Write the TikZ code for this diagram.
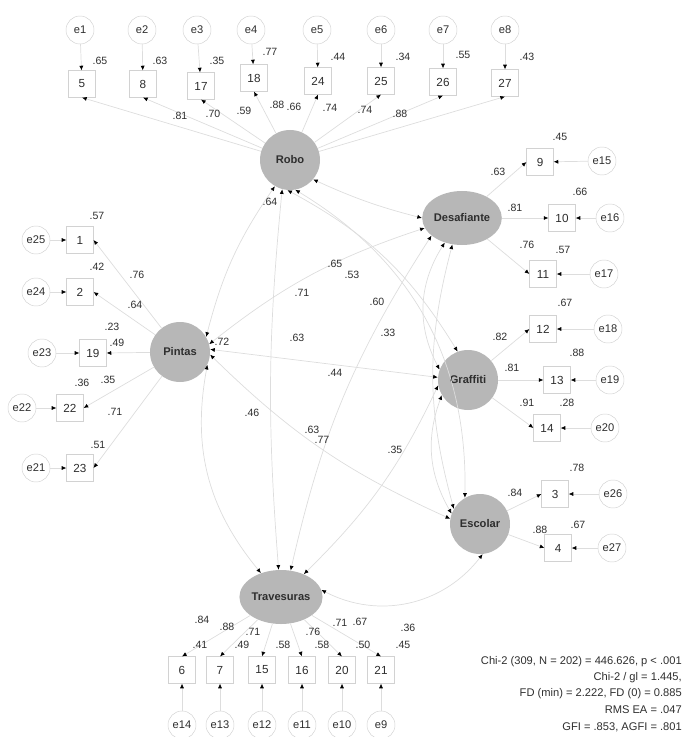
\documentclass[tikz,border=0pt]{standalone}
\usepackage{fontspec}
\setmainfont{Liberation Sans}
\usetikzlibrary{shapes.geometric, arrows.meta}
\definecolor{SemFill}{HTML}{B7B7B7}
\definecolor{SemLine}{HTML}{DDDDDD}
\definecolor{SemBox}{HTML}{D2D2D2}
\definecolor{SemText}{HTML}{2E2E2E}

\begin{document}
\begin{tikzpicture}[x=0.03cm, y=-0.03cm,
    latent/.style={circle, fill=SemFill, minimum size=1.8cm, inner sep=0pt, font=\fontsize{9.5}{11}\selectfont\bfseries, text=SemText},
    latentwide/.style={ellipse, fill=SemFill, minimum width=2.35cm, minimum height=1.62cm, inner sep=0pt, font=\fontsize{9.5}{11}\selectfont\bfseries, text=SemText},
    item/.style={rectangle, draw=SemBox, minimum size=0.8cm, inner sep=0pt, font=\fontsize{10}{12}\selectfont, text=SemText},
    err/.style={circle, draw=SemBox, minimum size=0.84cm, inner sep=0pt, font=\fontsize{9.5}{11}\selectfont, text=SemText},
    coef/.style={font=\fontsize{9}{10}\selectfont, text=SemText, inner sep=0pt},
    stat/.style={font=\fontsize{9.5}{11}\selectfont, text=SemText, anchor=east, inner sep=0pt},
    load/.style={draw=SemLine, line width=0.6pt, -{Latex[length=4pt, width=3.5pt, color=black]}},
    cov/.style={draw=SemLine, line width=0.6pt, {Latex[length=4pt, width=3.5pt, color=black]}-{Latex[length=4pt, width=3.5pt, color=black]}}]
    \useasboundingbox (0,0) rectangle (684,737);

    % Latent factors
    \node[latent] (robo) at (290,160) {Robo};
    \node[latentwide] (desafiante) at (462,218) {Desafiante};
    \node[latent] (graffiti) at (468,380) {Graffiti};
    \node[latent] (escolar) at (480,524) {Escolar};
    \node[latentwide] (travesuras) at (281,597) {Travesuras};
    \node[latent] (pintas) at (180,352) {Pintas};

    % Robo: errors and items (top row)
    \node[err] (e1) at (80,30) {e1};
    \node[err] (e2) at (142,30) {e2};
    \node[err] (e3) at (197,30) {e3};
    \node[err] (e4) at (251,30) {e4};
    \node[err] (e5) at (317,30) {e5};
    \node[err] (e6) at (381,30) {e6};
    \node[err] (e7) at (443,30) {e7};
    \node[err] (e8) at (505,30) {e8};
    \node[item] (i5) at (82,84) {5};
    \node[item] (i8) at (143,84) {8};
    \node[item] (i17) at (201,86) {17};
    \node[item] (i18) at (254,78) {18};
    \node[item] (i24) at (318,81) {24};
    \node[item] (i25) at (381,81) {25};
    \node[item] (i26) at (443,82) {26};
    \node[item] (i27) at (505,83) {27};

    % Desafiante: items and errors
    \node[item] (i9) at (540,162) {9};
    \node[item] (i10) at (562,218) {10};
    \node[item] (i11) at (543,274) {11};
    \node[err] (e15) at (602,161) {e15};
    \node[err] (e16) at (610,218) {e16};
    \node[err] (e17) at (604,274) {e17};

    % Graffiti: items and errors
    \node[item] (i12) at (543,329) {12};
    \node[item] (i13) at (557,380) {13};
    \node[item] (i14) at (547,428) {14};
    \node[err] (e18) at (608,329) {e18};
    \node[err] (e19) at (610,380) {e19};
    \node[err] (e20) at (605,428) {e20};

    % Escolar: items and errors
    \node[item] (i3) at (555,494) {3};
    \node[item] (i4) at (558,548) {4};
    \node[err] (e26) at (613,494) {e26};
    \node[err] (e27) at (612,548) {e27};

    % Travesuras: items and errors (bottom row)
    \node[item] (i6) at (182,670) {6};
    \node[item] (i7) at (220,670) {7};
    \node[item] (i15) at (262,670) {15};
    \node[item] (i16) at (302,670) {16};
    \node[item] (i20) at (342,670) {20};
    \node[item] (i21) at (381,670) {21};
    \node[err] (e14) at (182,725) {e14};
    \node[err] (e13) at (220,725) {e13};
    \node[err] (e12) at (262,725) {e12};
    \node[err] (e11) at (302,725) {e11};
    \node[err] (e10) at (342,725) {e10};
    \node[err] (e9) at (381,725) {e9};

    % Pintas: items and errors
    \node[item] (i1) at (80,240) {1};
    \node[item] (i2) at (80,292) {2};
    \node[item] (i19) at (93,353) {19};
    \node[item] (i22) at (70,408) {22};
    \node[item] (i23) at (80,468) {23};
    \node[err] (e25) at (36,240) {e25};
    \node[err] (e24) at (36,292) {e24};
    \node[err] (e23) at (42,353) {e23};
    \node[err] (e22) at (22,408) {e22};
    \node[err] (e21) at (36,468) {e21};

    % Loadings
    \foreach \it in {i5, i8, i17, i18, i24, i25, i26, i27}
        \draw[load] (robo) -- (\it.south);
    \foreach \it in {i9, i10, i11}
        \draw[load] (desafiante) -- (\it.west);
    \foreach \it in {i12, i13, i14}
        \draw[load] (graffiti) -- (\it.west);
    \foreach \it in {i3, i4}
        \draw[load] (escolar) -- (\it.west);
    \foreach \it in {i6, i7, i15, i16, i20, i21}
        \draw[load] (travesuras) -- (\it.north);
    \foreach \it in {i1, i2, i19, i22, i23}
        \draw[load] (pintas) -- (\it.east);

    % Error terms
    \draw[load] (e1) -- (i5);   \draw[load] (e2) -- (i8);
    \draw[load] (e3) -- (i17);  \draw[load] (e4) -- (i18);
    \draw[load] (e5) -- (i24);  \draw[load] (e6) -- (i25);
    \draw[load] (e7) -- (i26);  \draw[load] (e8) -- (i27);
    \draw[load] (e15) -- (i9);  \draw[load] (e16) -- (i10);
    \draw[load] (e17) -- (i11); \draw[load] (e18) -- (i12);
    \draw[load] (e19) -- (i13); \draw[load] (e20) -- (i14);
    \draw[load] (e26) -- (i3);  \draw[load] (e27) -- (i4);
    \draw[load] (e14) -- (i6);  \draw[load] (e13) -- (i7);
    \draw[load] (e12) -- (i15); \draw[load] (e11) -- (i16);
    \draw[load] (e10) -- (i20); \draw[load] (e9) -- (i21);
    \draw[load] (e25) -- (i1);  \draw[load] (e24) -- (i2);
    \draw[load] (e23) -- (i19); \draw[load] (e22) -- (i22);
    \draw[load] (e21) -- (i23);

    % Covariances between factors
    \draw[cov] (robo.240) to[bend right=10] (pintas.30);
    \draw[cov] (robo.255) to[bend right=5] (travesuras.95);
    \draw[cov] (robo.265) to[bend left=15] (graffiti.110);
    \draw[cov] (robo.280) to[bend left=30] (escolar.120);
    \draw[cov] (robo.320) to[bend right=5] (desafiante.180);
    \draw[cov] (desafiante.235) to[bend right=30] (graffiti.160);
    \draw[cov] (desafiante.250) to[bend right=15] (escolar.150);
    \draw[cov] (desafiante.210) to[bend right=10] (travesuras.70);
    \draw[cov] (desafiante.195) to[bend right=10] (pintas.15);
    \draw[cov] (graffiti.210) to[bend right=25] (escolar.160);
    \draw[cov] (graffiti.190) to[bend left=10] (travesuras.45);
    \draw[cov] (graffiti.175) to (pintas.5);
    \draw[cov] (escolar.275) to[bend left=40] (travesuras.10);
    \draw[cov] (escolar.170) to[bend left=10] (pintas.-5);
    \draw[cov] (travesuras.130) to[bend left=25] (pintas.-25);

    % Covariance values
    \node[coef] (c1) at (270,202) {.64};
    \node[coef] (c2) at (222,342) {.72};
    \node[coef] (c3) at (302,293) {.71};
    \node[coef] (c4) at (335,264) {.65};
    \node[coef] (c5) at (352,275) {.53};
    \node[coef] (c6) at (377,302) {.60};
    \node[coef] (c7) at (388,333) {.33};
    \node[coef] (c8) at (297,338) {.63};
    \node[coef] (c9) at (335,373) {.44};
    \node[coef] (c10) at (252,413) {.46};
    \node[coef] (c11) at (312,430) {.63};
    \node[coef] (c12) at (322,440) {.77};
    \node[coef] (c13) at (395,450) {.35};

    % Robo values
    \node[coef] (r1) at (100,61) {.65};
    \node[coef] (r2) at (160,61) {.63};
    \node[coef] (r3) at (217,61) {.35};
    \node[coef] (r4) at (270,52) {.77};
    \node[coef] (r5) at (338,57) {.44};
    \node[coef] (r6) at (403,57) {.34};
    \node[coef] (r7) at (463,55) {.55};
    \node[coef] (r8) at (527,57) {.43};
    \node[coef] (l1) at (180,116) {.81};
    \node[coef] (l2) at (213,114) {.70};
    \node[coef] (l3) at (244,111) {.59};
    \node[coef] (l4) at (277,105) {.88};
    \node[coef] (l5) at (294,107) {.66};
    \node[coef] (l6) at (330,108) {.74};
    \node[coef] (l7) at (365,110) {.74};
    \node[coef] (l8) at (400,114) {.88};

    % Desafiante values
    \node[coef] (d1) at (560,137) {.45};
    \node[coef] (d2) at (498,172) {.63};
    \node[coef] (d3) at (580,192) {.66};
    \node[coef] (d4) at (515,208) {.81};
    \node[coef] (d5) at (527,245) {.76};
    \node[coef] (d6) at (563,250) {.57};

    % Graffiti values
    \node[coef] (g1) at (565,303) {.67};
    \node[coef] (g2) at (500,337) {.82};
    \node[coef] (g3) at (577,353) {.88};
    \node[coef] (g4) at (512,368) {.81};
    \node[coef] (g5) at (527,403) {.91};
    \node[coef] (g6) at (567,403) {.28};

    % Escolar values
    \node[coef] (s1) at (577,468) {.78};
    \node[coef] (s2) at (515,493) {.84};
    \node[coef] (s3) at (578,525) {.67};
    \node[coef] (s4) at (540,530) {.88};

    % Travesuras values
    \node[coef] (t1) at (202,620) {.84};
    \node[coef] (t2) at (227,627) {.88};
    \node[coef] (t3) at (253,632) {.71};
    \node[coef] (t4) at (313,632) {.76};
    \node[coef] (t5) at (340,623) {.71};
    \node[coef] (t6) at (360,622) {.67};
    \node[coef] (t7) at (408,628) {.36};
    \node[coef] (t8) at (200,645) {.41};
    \node[coef] (t9) at (242,645) {.49};
    \node[coef] (t10) at (283,645) {.58};
    \node[coef] (t11) at (322,645) {.58};
    \node[coef] (t12) at (363,645) {.50};
    \node[coef] (t13) at (403,645) {.45};

    % Pintas values
    \node[coef] (p1) at (97,216) {.57};
    \node[coef] (p2) at (97,267) {.42};
    \node[coef] (p3) at (137,275) {.76};
    \node[coef] (p4) at (135,305) {.64};
    \node[coef] (p5) at (112,327) {.23};
    \node[coef] (p6) at (117,343) {.49};
    \node[coef] (p7) at (82,383) {.36};
    \node[coef] (p8) at (108,380) {.35};
    \node[coef] (p9) at (115,412) {.71};
    \node[coef] (p10) at (98,445) {.51};

    % Fit indices
    \node[stat] (fit1) at (682,662) {Chi-2 (309, N = 202) = 446.626, p < .001};
    \node[stat] (fit2) at (682,678) {Chi-2 / gl = 1.445,};
    \node[stat] (fit3) at (682,694) {FD (min) = 2.222, FD (0) = 0.885};
    \node[stat] (fit4) at (682,710) {RMS EA = .047};
    \node[stat] (fit5) at (682,727) {GFI = .853, AGFI = .801};
\end{tikzpicture}
\end{document}
